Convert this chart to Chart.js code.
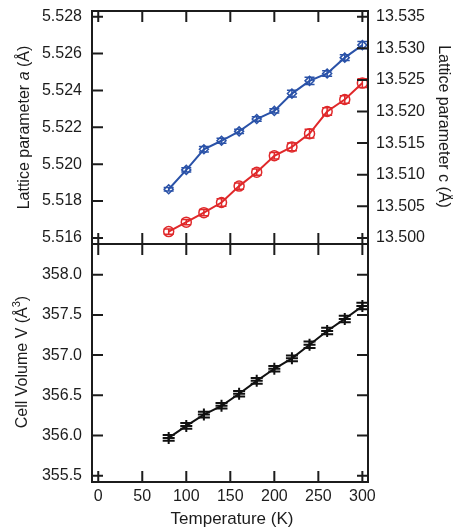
<!DOCTYPE html>
<html>
<head>
<meta charset="utf-8">
<script src="https://cdn.jsdelivr.net/npm/chart.js@4/dist/chart.umd.min.js"></script>
<style>
  html, body { margin: 0; padding: 0; background: #fff; }
  canvas { display: block; }
</style>
</head>
<body>
<canvas id="lattice" width="453" height="532"></canvas>
<script>
// Temperature points (K)
const temps = [80, 100, 120, 140, 160, 180, 200, 220, 240, 260, 280, 300];

// Lattice parameter a (Å) with uncertainties
const latticeA    = [5.51864, 5.51969, 5.52081, 5.52127, 5.52178, 5.52245, 5.52289, 5.52383, 5.52452, 5.52492, 5.52578, 5.52646];
const latticeAErr = [0.00010, 0.00012, 0.00015, 0.00014, 0.00012, 0.00012, 0.00012, 0.00018, 0.00020, 0.00015, 0.00015, 0.00020];

// Lattice parameter c (Å) with uncertainties
const latticeC    = [13.5010, 13.5025, 13.5040, 13.5056, 13.5082, 13.5104, 13.5130, 13.5144, 13.5165, 13.5200, 13.5219, 13.5245];
const latticeCErr = [0.0004, 0.0004, 0.0005, 0.0006, 0.0005, 0.0005, 0.0005, 0.0006, 0.0007, 0.0006, 0.0006, 0.0007];

// Cell volume V (Å³) with uncertainties
const cellVolume    = [355.97, 356.12, 356.26, 356.37, 356.52, 356.68, 356.83, 356.96, 357.13, 357.30, 357.45, 357.61];
const cellVolumeErr = [0.035, 0.035, 0.035, 0.035, 0.035, 0.035, 0.035, 0.035, 0.04, 0.04, 0.04, 0.04];

// Tick values
const tempTicks = [0, 50, 100, 150, 200, 250, 300];
const aTicks = [5.516, 5.518, 5.520, 5.522, 5.524, 5.526, 5.528];
const cTicks = [13.500, 13.505, 13.510, 13.515, 13.520, 13.525, 13.530, 13.535];
const vTicks = [355.5, 356.0, 356.5, 357.0, 357.5, 358.0];

const FONT = '"Liberation Sans", Arial, Helvetica, sans-serif';
const INK = '#1c1c1c';
const BLUE = '#2a52a8';
const RED = '#e0282a';
const TICK = 11;

const pts = (xs, ys) => xs.map((x, i) => ({ x, y: ys[i] }));

// vertical error bars with caps, positioned through the chart scales
const errorBars = {
  id: 'errorBars',
  afterDatasetsDraw(chart) {
    const ctx = chart.ctx;
    chart.data.datasets.forEach((ds) => {
      const xs = chart.scales[ds.xAxisID];
      const ys = chart.scales[ds.yAxisID];
      ctx.save();
      ctx.strokeStyle = ds.borderColor;
      ctx.lineWidth = ds.errorWidth;
      ctx.beginPath();
      ds.data.forEach((p, j) => {
        const e = ds.errors[j];
        const x = xs.getPixelForValue(p.x);
        const y1 = ys.getPixelForValue(p.y - e);
        const y2 = ys.getPixelForValue(p.y + e);
        const w = ds.capHalf;
        ctx.moveTo(x, y1); ctx.lineTo(x, y2);
        ctx.moveTo(x - w, y1); ctx.lineTo(x + w, y1);
        ctx.moveTo(x - w, y2); ctx.lineTo(x + w, y2);
      });
      ctx.stroke();
      ctx.restore();
    });
  }
};

// boxed panels with inward ticks on every side
const frame = {
  id: 'frame',
  afterDraw(chart) {
    const { ctx, chartArea: ca, scales: s } = chart;
    const L = ca.left, R = ca.right;
    const panels = [
      { top: s.yA.top, bottom: s.yA.bottom, left: [s.yA, aTicks], right: [s.yC, cTicks] },
      { top: s.yV.top, bottom: s.yV.bottom, left: [s.yV, vTicks], right: [s.yV, vTicks] }
    ];
    ctx.save();
    ctx.strokeStyle = INK;
    ctx.lineWidth = 2;
    panels.forEach((p) => {
      ctx.strokeRect(L, p.top, R - L, p.bottom - p.top);
      ctx.beginPath();
      p.left[1].forEach((v) => {
        const y = p.left[0].getPixelForValue(v);
        ctx.moveTo(L, y); ctx.lineTo(L + TICK, y);
      });
      p.right[1].forEach((v) => {
        const y = p.right[0].getPixelForValue(v);
        ctx.moveTo(R, y); ctx.lineTo(R - TICK, y);
      });
      tempTicks.forEach((v) => {
        const x = s.x.getPixelForValue(v);
        ctx.moveTo(x, p.top); ctx.lineTo(x, p.top + TICK);
        ctx.moveTo(x, p.bottom); ctx.lineTo(x, p.bottom - TICK);
      });
      ctx.stroke();
    });
    ctx.restore();
  }
};

function drawRich(ctx, segs, cx, cy, angle) {
  ctx.save();
  ctx.translate(cx, cy);
  ctx.rotate(angle);
  ctx.textBaseline = 'middle';
  ctx.textAlign = 'left';
  ctx.fillStyle = INK;
  let total = 0;
  segs.forEach((sg) => { ctx.font = sg.font; sg.w = ctx.measureText(sg.text).width; total += sg.w; });
  let x = -total / 2;
  segs.forEach((sg) => { ctx.font = sg.font; ctx.fillText(sg.text, x, sg.dy || 0); x += sg.w; });
  ctx.restore();
}

// axis titles (mixed italic / superscript)
const axisTitles = {
  id: 'axisTitles',
  afterDraw(chart) {
    const { ctx, chartArea: ca, scales: s } = chart;
    const f16 = '16px ' + FONT;
    const topMid = (s.yA.top + s.yA.bottom) / 2;
    const botMid = (s.yV.top + s.yV.bottom) / 2;
    drawRich(ctx, [
      { text: 'Lattice parameter ', font: f16 },
      { text: 'a', font: 'italic 16px ' + FONT },
      { text: ' (Å)', font: f16 }
    ], 25, topMid, -Math.PI / 2);
    drawRich(ctx, [
      { text: 'Lattice parameter c (Å)', font: f16 }
    ], 443, topMid - 1, Math.PI / 2);
    drawRich(ctx, [
      { text: 'Cell Volume V (Å', font: f16 },
      { text: '3', font: '11px ' + FONT, dy: -6 },
      { text: ')', font: f16 }
    ], 23, botMid - 1, -Math.PI / 2);
    drawRich(ctx, [
      { text: 'Temperature (K)', font: '17px ' + FONT }
    ], (ca.left + ca.right) / 2 + 2, 519, 0);
  }
};

const tickFont = { family: FONT, size: 16 };
const setTicks = (vals) => (sc) => { sc.ticks = vals.map((v) => ({ value: v })); };
const fitY = (w) => (sc) => { sc.width = w; sc.paddingTop = 0; sc.paddingBottom = 0; };

new Chart(document.getElementById('lattice'), {
  type: 'line',
  data: {
    datasets: [
      {
        data: pts(temps, latticeA), errors: latticeAErr,
        xAxisID: 'x', yAxisID: 'yA',
        borderColor: BLUE, borderWidth: 2,
        pointStyle: 'rectRot', pointRadius: 4.5, pointBorderWidth: 1.5,
        pointBorderColor: BLUE, pointBackgroundColor: 'rgba(255,255,255,0)',
        capHalf: 5, errorWidth: 1.5
      },
      {
        data: pts(temps, latticeC), errors: latticeCErr,
        xAxisID: 'x', yAxisID: 'yC',
        borderColor: RED, borderWidth: 2,
        pointStyle: 'circle', pointRadius: 5, pointBorderWidth: 1.5,
        pointBorderColor: RED, pointBackgroundColor: 'rgba(255,255,255,0)',
        capHalf: 5, errorWidth: 1.5
      },
      {
        data: pts(temps, cellVolume), errors: cellVolumeErr,
        xAxisID: 'x', yAxisID: 'yV',
        borderColor: '#111', borderWidth: 2,
        pointStyle: 'cross', pointRadius: 6, pointBorderWidth: 2,
        pointBorderColor: '#111',
        capHalf: 6, errorWidth: 2
      }
    ]
  },
  options: {
    responsive: false,
    animation: false,
    events: [],
    layout: { padding: { top: 11, left: 0, right: 0, bottom: 0 }, autoPadding: false },
    plugins: { legend: { display: false }, tooltip: { enabled: false } },
    elements: { line: { tension: 0 } },
    scales: {
      x: {
        type: 'linear', position: 'bottom', min: -7.1, max: 306.4,
        grid: { display: false, drawTicks: false }, border: { display: false },
        ticks: { font: tickFont, color: INK, padding: 5, maxRotation: 0, autoSkip: false, callback: (v) => String(v) },
        afterBuildTicks: setTicks(tempTicks),
        afterFit: (sc) => { sc.height = 50; sc.paddingLeft = 0; sc.paddingRight = 0; }
      },
      yV: {
        type: 'linear', position: 'left', stack: 'L', stackWeight: 238,
        min: 355.422, max: 358.382,
        grid: { display: false, drawTicks: false }, border: { display: false },
        ticks: { font: tickFont, color: INK, padding: 10, autoSkip: false, callback: (v) => v.toFixed(1) },
        afterBuildTicks: setTicks(vTicks),
        afterFit: fitY(92)
      },
      yA: {
        type: 'linear', position: 'left', stack: 'L', stackWeight: 233,
        min: 5.51567, max: 5.52831,
        grid: { display: false, drawTicks: false }, border: { display: false },
        ticks: { font: tickFont, color: INK, padding: 10, autoSkip: false, callback: (v) => v.toFixed(3) },
        afterBuildTicks: setTicks(aTicks),
        afterFit: fitY(92)
      },
      yC: {
        type: 'linear', position: 'right', stack: 'R', stackWeight: 233,
        min: 13.49904, max: 13.5359,
        grid: { display: false, drawTicks: false }, border: { display: false },
        ticks: { font: tickFont, color: INK, padding: 8, autoSkip: false, callback: (v) => v.toFixed(3) },
        afterBuildTicks: setTicks(cTicks),
        afterFit: fitY(85)
      },
      yR: {
        type: 'linear', position: 'right', stack: 'R', stackWeight: 238,
        min: 355.422, max: 358.382,
        grid: { display: false, drawTicks: false }, border: { display: false },
        ticks: { display: false, autoSkip: false },
        afterBuildTicks: setTicks(vTicks),
        afterFit: fitY(85)
      }
    }
  },
  plugins: [errorBars, frame, axisTitles]
});
</script>
</body>
</html>
